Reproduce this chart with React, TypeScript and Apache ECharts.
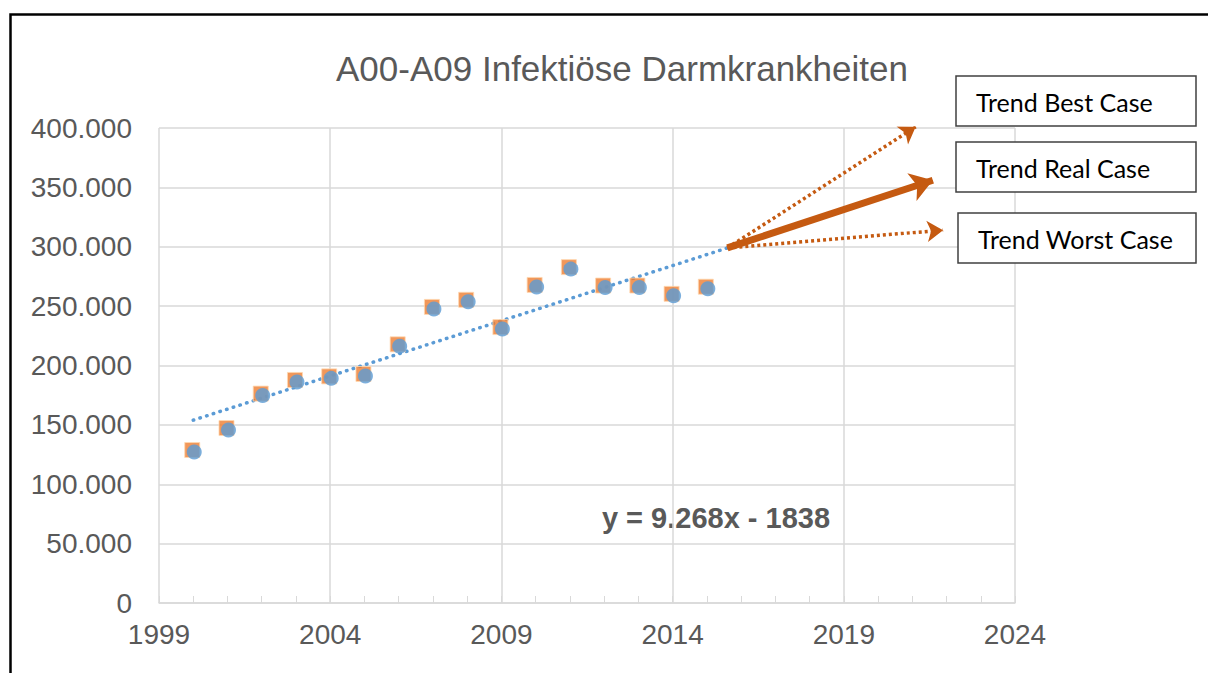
import React, { useEffect, useRef } from "react";
import * as echarts from "echarts";

const years = [2000, 2001, 2002, 2003, 2004, 2005, 2006, 2007, 2008, 2009, 2010, 2011, 2012, 2013, 2014, 2015];
const cases = [128000, 146500, 175500, 187000, 190000, 192000, 217000, 248500, 254500, 231500, 267000, 282000, 266500, 266500, 259500, 265500];
const trendStart = [2000, 154000];
const trendEnd = [2015.6, 299000];
const bestCaseEnd = [2021.1, 401000];
const realCaseEnd = [2021.6, 356000];
const worstCaseEnd = [2021.9, 314000];
const scenarioLabels = ["Trend Best Case", "Trend Real Case", "Trend Worst Case"];
const chartTitle = "A00-A09 Infektiöse Darmkrankheiten";
const equation = "y = 9.268x - 1838";

export default function App() {
  const ref = useRef<HTMLDivElement>(null);
  useEffect(() => {
    if (!ref.current) return;
    const chart = echarts.init(ref.current, undefined, { renderer: "svg" });
    const pts = years.map((y, i) => [y, cases[i]]);
    const axisText = { color: "#595959", fontSize: 28, fontFamily: "Liberation Sans, Arial, sans-serif" };
    const arrow = "#C55A11";
    chart.setOption({
      animation: false,
      backgroundColor: "#fff",
      grid: { left: 159, right: 193, top: 128, bottom: 70 },
      xAxis: {
        type: "value",
        min: 1999,
        max: 2024,
        interval: 5,
        axisLine: { show: true, lineStyle: { color: "#d9d9d9", width: 1.5 } },
        axisTick: { show: true, inside: true, length: 7, lineStyle: { color: "#d9d9d9" } },
        minorTick: { show: true, splitNumber: 5, length: 7, lineStyle: { color: "#d9d9d9" } },
        splitLine: { show: true, lineStyle: { color: "#d9d9d9", width: 1.5 } },
        axisLabel: { ...axisText, margin: 17, formatter: (v: number) => String(v) },
      },
      yAxis: {
        type: "value",
        min: 0,
        max: 400000,
        interval: 50000,
        axisLine: { show: false },
        axisTick: { show: false },
        splitLine: { show: true, lineStyle: { color: "#d9d9d9", width: 1.5 } },
        axisLabel: {
          ...axisText,
          margin: 27,
          formatter: (v: number) => (v === 0 ? "0" : (v / 1000).toFixed(0) + ".000"),
        },
      },
      series: [
        {
          type: "line",
          data: [trendStart, trendEnd],
          symbol: "none",
          lineStyle: { color: "#5B9BD5", width: 3.5, type: [0.5, 6.5], cap: "round" },
          z: 2,
        },
        {
          type: "scatter",
          data: pts,
          symbol: "rect",
          symbolSize: 15,
          symbolOffset: [-1, -1],
          itemStyle: { color: "#ED7D31", borderColor: "#FFD8B0", borderWidth: 1 },
          z: 3,
        },
        {
          type: "scatter",
          data: pts,
          symbol: "circle",
          symbolSize: 15,
          symbolOffset: [1, 1],
          itemStyle: { color: "#5B9BD5" },
          z: 4,
        },
        {
          type: "lines",
          coordinateSystem: "cartesian2d",
          symbol: ["none", "arrow"],
          symbolSize: 16,
          data: [
            { coords: [trendEnd, bestCaseEnd] },
            { coords: [trendEnd, worstCaseEnd] },
          ],
          lineStyle: { color: arrow, width: 3.5, opacity: 1, type: [3, 3] },
          z: 5,
        },
        {
          type: "lines",
          coordinateSystem: "cartesian2d",
          symbol: ["none", "arrow"],
          symbolSize: 22,
          data: [{ coords: [trendEnd, realCaseEnd] }],
          lineStyle: { color: arrow, width: 7, opacity: 1, type: "solid" },
          z: 5,
        },
      ],
      graphic: [
        {
          type: "rect",
          left: 8,
          top: 12,
          shape: { width: 1220, height: 680 },
          style: { fill: "none", stroke: "#000", lineWidth: 2.5 },
          silent: true,
          z: 100,
        },
        {
          type: "text",
          x: 622,
          y: 68,
          style: {
            text: chartTitle,
            fill: "#595959",
            fontSize: 35,
            fontFamily: "Liberation Sans, Arial, sans-serif",
            align: "center",
            verticalAlign: "middle",
          },
        },
        {
          type: "text",
          x: 716,
          y: 518,
          style: {
            text: equation,
            fill: "#595959",
            fontSize: 29,
            fontWeight: "bold",
            fontFamily: "Liberation Sans, Arial, sans-serif",
            align: "center",
            verticalAlign: "middle",
          },
        },
        ...scenarioLabels.flatMap((t, i) => {
          const boxes = [
            { x: 956, y: 76, w: 240, h: 50 },
            { x: 956, y: 142, w: 240, h: 50 },
            { x: 958, y: 213, w: 238, h: 50 },
          ];
          const b = boxes[i];
          return [
            {
              type: "rect",
              shape: { x: b.x, y: b.y, width: b.w, height: b.h },
              style: { fill: "#fff", stroke: "#404040", lineWidth: 1.5 },
              z: 50,
            },
            {
              type: "text",
              x: b.x + 20,
              y: b.y + b.h / 2 + 1,
              style: {
                text: t,
                fill: "#000",
                fontSize: 25,
                fontFamily: "Lato, 'Open Sans', sans-serif",
                align: "left",
                verticalAlign: "middle",
              },
              z: 51,
            },
          ];
        }),
      ],
    });
    return () => chart.dispose();
  }, []);
  return <div ref={ref} style={{ position: "fixed", left: 0, top: 0, width: 1208, height: 673 }} />;
}
